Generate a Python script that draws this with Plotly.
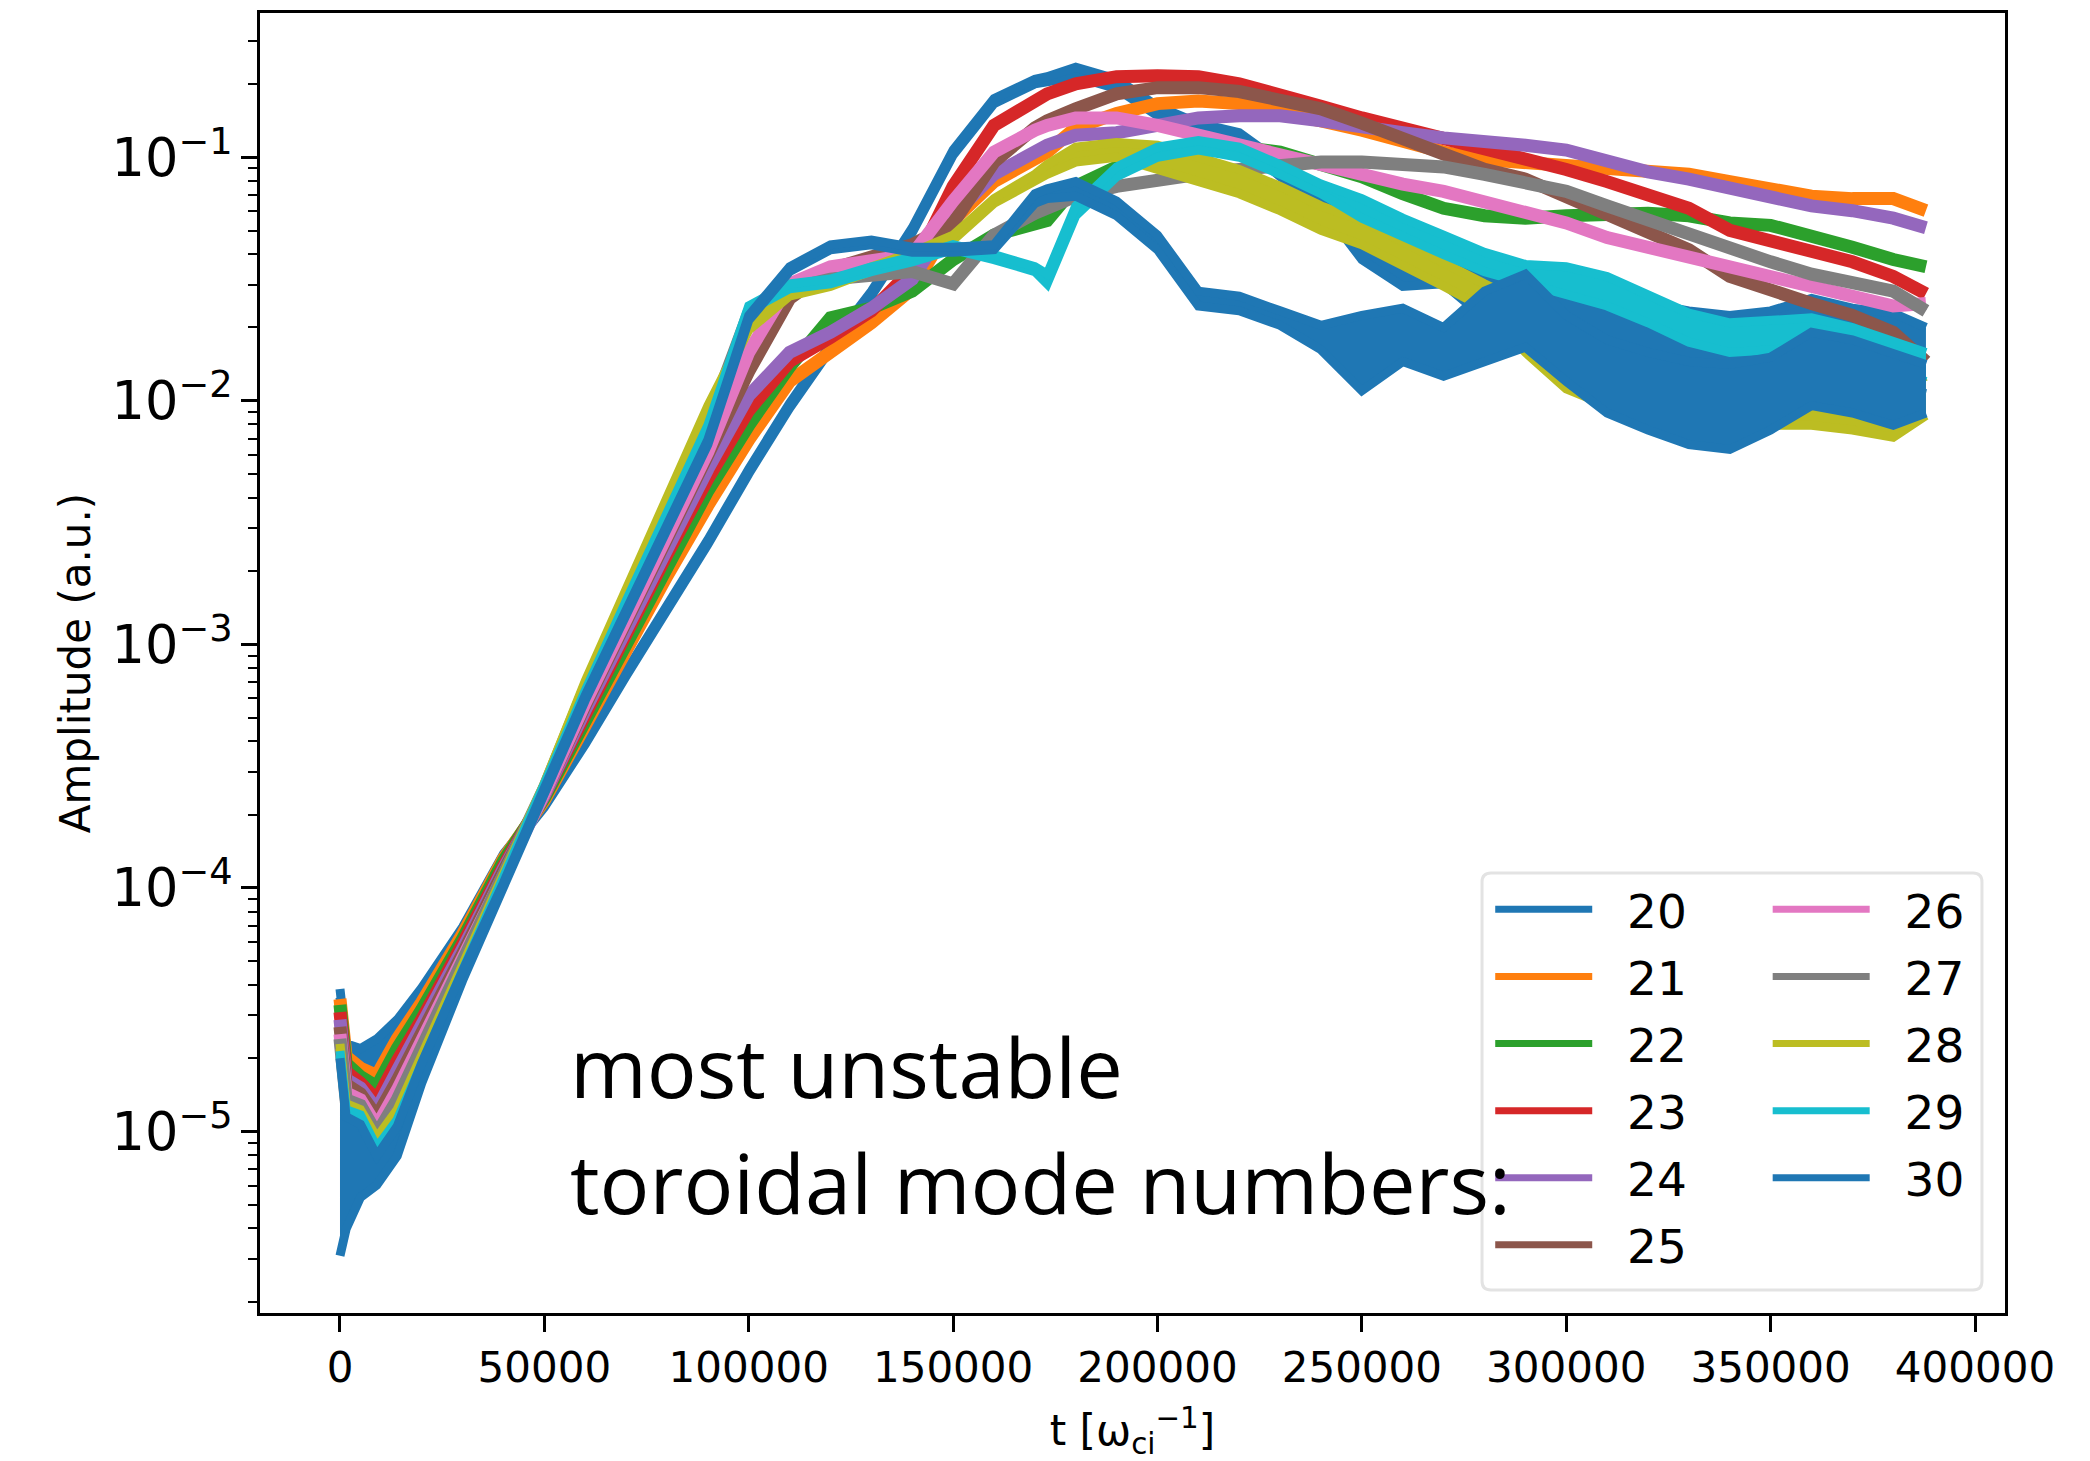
import plotly.graph_objects as go

# Simulation time grid [1/omega_ci]
T = [0, 1500, 5000, 9000, 14000, 20000, 30000, 40000, 50000, 60000, 70000, 80000,
     90000, 100000, 110000, 120000, 130000, 140000, 150000, 160000, 170000, 173000,
     180000, 190000, 200000, 210000, 220000, 230000, 240000, 250000, 260000, 270000,
     280000, 290000, 300000, 310000, 320000, 330000, 340000, 350000, 360000, 370000,
     380000, 388000]

# Mode amplitudes (a.u.).  Strongly oscillating modes are given as lower/upper envelopes.
AMP_20_LO = [3.55e-5, 2.09e-5, 1.82e-5, 1.70e-5, 2.40e-5, 3.39e-5, 6.61e-5, 1.32e-4, 2.14e-4, 3.89e-4,
             7.41e-4, 1.38e-3, 2.57e-3, 5.01e-3, 9.33e-3, 1.62e-2, 2.69e-2, 4.90e-2, 0.102, 0.166,
             0.200, 0.204, 0.214, 0.191, 0.148, 0.126, 0.115, 8.32e-2, 6.31e-2, 3.80e-2,
             2.95e-2, 3.02e-2, 2.19e-2, 2.00e-2, 1.78e-2, 1.51e-2, 1.26e-2, 1.15e-2, 1.10e-2, 1.15e-2,
             1.32e-2, 1.26e-2, 1.15e-2, 1.07e-2]
AMP_20_HI = [3.85e-5, 2.29e-5, 2.19e-5, 2.40e-5, 2.88e-5, 3.89e-5, 6.92e-5, 1.38e-4, 2.24e-4, 4.07e-4,
             7.76e-4, 1.45e-3, 2.69e-3, 5.25e-3, 9.77e-3, 1.70e-2, 2.82e-2, 5.13e-2, 0.107, 0.174,
             0.209, 0.214, 0.234, 0.209, 0.162, 0.138, 0.126, 9.55e-2, 7.59e-2, 5.89e-2,
             4.27e-2, 4.17e-2, 3.63e-2, 3.39e-2, 3.16e-2, 2.82e-2, 2.51e-2, 2.34e-2, 2.24e-2, 2.34e-2,
             2.63e-2, 2.40e-2, 2.29e-2, 2.00e-2]
AMP_21 = [3.50e-5, 2.03e-5, 1.82e-5, 1.70e-5, 2.40e-5, 3.39e-5, 6.46e-5, 1.32e-4, 2.29e-4, 4.68e-4,
          9.55e-4, 1.91e-3, 3.72e-3, 6.92e-3, 1.20e-2, 1.58e-2, 2.09e-2, 2.88e-2, 5.50e-2, 7.94e-2,
          9.77e-2, 0.105, 0.132, 0.151, 0.166, 0.170, 0.166, 0.155, 0.141, 0.129,
          0.115, 0.105, 0.0977, 0.0955, 0.0933, 0.0912, 0.0871, 0.0851, 0.0794, 0.0741,
          0.0692, 0.0676, 0.0676, 0.0603]
AMP_22 = [3.31e-5, 1.90e-5, 1.68e-5, 1.53e-5, 2.19e-5, 3.16e-5, 6.17e-5, 1.29e-4, 2.34e-4, 4.90e-4,
          1.02e-3, 2.09e-3, 4.27e-3, 7.94e-3, 1.38e-2, 2.19e-2, 2.40e-2, 2.82e-2, 3.80e-2, 4.79e-2,
          5.25e-2, 5.50e-2, 7.59e-2, 9.12e-2, 0.100, 0.107, 0.110, 0.105, 0.0933, 0.0832,
          0.0708, 0.0617, 0.0575, 0.0562, 0.0575, 0.0589, 0.0589, 0.0575, 0.0537, 0.0525,
          0.0479, 0.0427, 0.0380, 0.0355]
AMP_23 = [3.09e-5, 1.76e-5, 1.58e-5, 1.35e-5, 1.95e-5, 2.88e-5, 5.89e-5, 1.23e-4, 2.40e-4, 5.25e-4,
          1.10e-3, 2.34e-3, 4.79e-3, 9.12e-3, 1.45e-2, 1.82e-2, 2.34e-2, 3.47e-2, 7.59e-2, 0.135,
          0.174, 0.182, 0.200, 0.214, 0.216, 0.214, 0.200, 0.182, 0.162, 0.145,
          0.132, 0.120, 0.107, 0.100, 0.0891, 0.0794, 0.0708, 0.0617, 0.0501, 0.0457,
          0.0417, 0.0372, 0.0324, 0.0275]
AMP_24 = [2.88e-5, 1.64e-5, 1.51e-5, 1.23e-5, 1.78e-5, 2.69e-5, 5.62e-5, 1.20e-4, 2.40e-4, 5.37e-4,
          1.17e-3, 2.51e-3, 5.25e-3, 1.05e-2, 1.58e-2, 1.91e-2, 2.40e-2, 3.16e-2, 5.75e-2, 8.51e-2,
          0.107, 0.112, 0.123, 0.126, 0.135, 0.145, 0.148, 0.148, 0.141, 0.132,
          0.126, 0.120, 0.117, 0.112, 0.107, 0.0955, 0.0871, 0.0813, 0.0741, 0.0676,
          0.0631, 0.0603, 0.0562, 0.0513]
AMP_25 = [2.69e-5, 1.56e-5, 1.43e-5, 1.15e-5, 1.62e-5, 2.51e-5, 5.37e-5, 1.17e-4, 2.45e-4, 5.62e-4,
          1.23e-3, 2.69e-3, 5.75e-3, 1.32e-2, 2.63e-2, 3.47e-2, 3.89e-2, 4.37e-2, 5.37e-2, 9.55e-2,
          0.132, 0.141, 0.158, 0.182, 0.193, 0.193, 0.186, 0.174, 0.158, 0.138,
          0.120, 0.102, 0.0891, 0.0813, 0.0692, 0.0589, 0.0501, 0.0417, 0.0324, 0.0282,
          0.0251, 0.0224, 0.0191, 0.0145]
AMP_26 = [2.51e-5, 1.44e-5, 1.35e-5, 1.05e-5, 1.48e-5, 2.34e-5, 5.25e-5, 1.15e-4, 2.45e-4, 5.75e-4,
          1.29e-3, 2.82e-3, 6.17e-3, 1.58e-2, 3.02e-2, 3.55e-2, 3.72e-2, 3.98e-2, 6.61e-2, 0.105,
          0.129, 0.135, 0.145, 0.145, 0.135, 0.123, 0.112, 0.100, 0.0912, 0.0851,
          0.0776, 0.0724, 0.0661, 0.0603, 0.0537, 0.0468, 0.0427, 0.0389, 0.0355, 0.0316,
          0.0288, 0.0263, 0.0245, 0.0251]
AMP_27 = [2.40e-5, 1.35e-5, 1.28e-5, 9.75e-6, 1.35e-5, 2.19e-5, 5.01e-5, 1.12e-4, 2.57e-4, 6.61e-4,
          1.55e-3, 3.55e-3, 8.13e-3, 2.29e-2, 2.88e-2, 3.16e-2, 3.31e-2, 3.39e-2, 3.02e-2, 4.79e-2,
          5.89e-2, 6.17e-2, 6.92e-2, 7.59e-2, 8.13e-2, 8.51e-2, 8.91e-2, 9.33e-2, 9.55e-2, 9.55e-2,
          9.33e-2, 9.12e-2, 8.51e-2, 7.94e-2, 7.24e-2, 6.31e-2, 5.50e-2, 4.79e-2, 4.17e-2, 3.72e-2,
          3.31e-2, 3.09e-2, 2.82e-2, 2.34e-2]
AMP_28_LO = [2.19e-5, 1.26e-5, 1.19e-5, 9.02e-6, 1.17e-5, 1.95e-5, 4.68e-5, 1.07e-4, 2.57e-4, 6.76e-4,
             1.62e-3, 3.89e-3, 9.12e-3, 1.95e-2, 2.69e-2, 2.95e-2, 3.39e-2, 3.89e-2, 4.57e-2, 6.46e-2,
             8.13e-2, 8.51e-2, 9.55e-2, 0.100, 8.91e-2, 7.94e-2, 7.08e-2, 6.03e-2, 5.01e-2, 4.37e-2,
             3.55e-2, 2.95e-2, 2.40e-2, 1.58e-2, 1.12e-2, 9.55e-3, 7.76e-3, 7.94e-3, 7.59e-3, 7.94e-3,
             7.94e-3, 7.59e-3, 7.08e-3, 8.71e-3]
AMP_28_HI = [2.29e-5, 1.30e-5, 1.23e-5, 9.44e-6, 1.23e-5, 2.04e-5, 4.90e-5, 1.12e-4, 2.69e-4, 7.08e-4,
             1.70e-3, 4.07e-3, 9.55e-3, 2.04e-2, 2.82e-2, 3.09e-2, 3.55e-2, 4.07e-2, 4.79e-2, 6.76e-2,
             8.51e-2, 9.33e-2, 0.110, 0.115, 0.112, 0.100, 8.91e-2, 7.59e-2, 6.31e-2, 5.50e-2,
             4.47e-2, 3.72e-2, 3.02e-2, 2.51e-2, 2.04e-2, 1.66e-2, 1.41e-2, 1.26e-2, 1.20e-2, 1.26e-2,
             1.26e-2, 1.20e-2, 1.12e-2, 1.26e-2]
AMP_29_LO = [2.04e-5, 1.19e-5, 1.12e-5, 8.22e-6, 1.07e-5, 1.82e-5, 4.47e-5, 1.05e-4, 2.51e-4, 6.17e-4,
             1.45e-3, 3.31e-3, 7.59e-3, 2.34e-2, 2.88e-2, 3.02e-2, 3.39e-2, 3.72e-2, 4.17e-2, 3.80e-2,
             3.39e-2, 3.02e-2, 5.75e-2, 8.32e-2, 0.100, 0.107, 0.100, 8.51e-2, 7.08e-2, 5.62e-2,
             4.68e-2, 3.98e-2, 3.39e-2, 3.02e-2, 2.69e-2, 2.45e-2, 2.09e-2, 1.74e-2, 1.58e-2, 1.62e-2,
             1.66e-2, 1.51e-2, 1.32e-2, 1.20e-2]
AMP_29_HI = [2.14e-5, 1.23e-5, 1.17e-5, 8.61e-6, 1.12e-5, 1.91e-5, 4.68e-5, 1.10e-4, 2.63e-4, 6.46e-4,
             1.51e-3, 3.47e-3, 7.94e-3, 2.45e-2, 3.02e-2, 3.16e-2, 3.55e-2, 3.89e-2, 4.37e-2, 3.98e-2,
             3.55e-2, 3.31e-2, 6.31e-2, 9.12e-2, 0.110, 0.117, 0.110, 9.33e-2, 7.76e-2, 6.76e-2,
             5.62e-2, 4.79e-2, 4.07e-2, 3.63e-2, 3.55e-2, 3.24e-2, 2.75e-2, 2.29e-2, 2.09e-2, 2.14e-2,
             2.19e-2, 2.00e-2, 1.74e-2, 1.58e-2]
AMP_30_LO = [3.09e-6, 3.98e-6, 5.37e-6, 6.03e-6, 7.94e-6, 1.58e-5, 4.17e-5, 1.00e-4, 2.45e-4, 5.89e-4,
             1.32e-3, 3.02e-3, 6.61e-3, 2.14e-2, 3.39e-2, 4.17e-2, 4.37e-2, 4.07e-2, 4.07e-2, 4.17e-2,
             6.46e-2, 6.76e-2, 6.92e-2, 5.75e-2, 4.17e-2, 2.45e-2, 2.34e-2, 2.04e-2, 1.62e-2, 1.10e-2,
             1.45e-2, 1.26e-2, 1.45e-2, 1.66e-2, 1.20e-2, 8.91e-3, 7.59e-3, 6.61e-3, 6.31e-3, 7.59e-3,
             9.55e-3, 8.91e-3, 7.94e-3, 8.91e-3]
AMP_30_HI = [2.00e-5, 1.15e-5, 1.07e-5, 7.94e-6, 1.05e-5, 1.91e-5, 4.57e-5, 1.05e-4, 2.57e-4, 6.17e-4,
             1.38e-3, 3.16e-3, 6.92e-3, 2.24e-2, 3.55e-2, 4.37e-2, 4.57e-2, 4.27e-2, 4.27e-2, 4.37e-2,
             7.08e-2, 7.41e-2, 7.94e-2, 6.61e-2, 4.79e-2, 2.82e-2, 2.69e-2, 2.34e-2, 2.04e-2, 2.24e-2,
             2.40e-2, 2.00e-2, 2.82e-2, 3.31e-2, 2.24e-2, 1.78e-2, 1.58e-2, 1.45e-2, 1.41e-2, 1.51e-2,
             1.91e-2, 1.78e-2, 1.58e-2, 1.41e-2]

MODES = [20, 21, 22, 23, 24, 25, 26, 27, 28, 29, 30]
MODE_DATA = {
    20: (AMP_20_LO, AMP_20_HI), 21: (AMP_21, None), 22: (AMP_22, None), 23: (AMP_23, None),
    24: (AMP_24, None), 25: (AMP_25, None), 26: (AMP_26, None), 27: (AMP_27, None),
    28: (AMP_28_LO, AMP_28_HI), 29: (AMP_29_LO, AMP_29_HI), 30: (AMP_30_LO, AMP_30_HI),
}
COLORS = ["#1f77b4", "#ff7f0e", "#2ca02c", "#d62728", "#9467bd", "#8c564b",
          "#e377c2", "#7f7f7f", "#bcbd22", "#17becf", "#1f77b4"]

X_TICKS = [0, 50000, 100000, 150000, 200000, 250000, 300000, 350000, 400000]

NOTE_LINES = ["most unstable", "toroidal mode numbers:"]

NBSP = "\u00a0"

fig = go.Figure()
for i, n in enumerate(MODES):
    color = COLORS[i]
    legend = "legend" if n <= 25 else "legend2"
    label = NBSP * 2 + str(n)
    lo, hi = MODE_DATA[n]
    if hi is None:
        fig.add_trace(go.Scatter(x=T, y=lo, mode="lines", name=label, legend=legend,
                                 line=dict(color=color, width=13), hoverinfo="skip"))
    else:
        fig.add_trace(go.Scatter(x=T, y=lo, mode="lines", name=label, legend=legend,
                                 legendgroup=str(n), line=dict(color=color, width=9),
                                 hoverinfo="skip"))
        fig.add_trace(go.Scatter(x=T, y=hi, mode="lines", name=label, legend=legend,
                                 legendgroup=str(n), showlegend=False, fill="tonexty",
                                 fillcolor=color, line=dict(color=color, width=9),
                                 hoverinfo="skip"))

axis_common = dict(showline=True, linecolor="black", linewidth=3, mirror=True,
                   ticks="outside", ticklen=16, tickwidth=2.5, tickcolor="black",
                   showgrid=False, zeroline=False,
                   tickfont=dict(family="DejaVu Sans", size=42, color="black"))

fig.update_layout(
    width=2090, height=1461,
    margin=dict(l=260, r=85, t=13, b=148, autoexpand=False),
    paper_bgcolor="white", plot_bgcolor="white",
    font=dict(family="DejaVu Sans", color="black", size=42),
    xaxis=dict(range=[-19570, 407340], tickmode="array", tickvals=X_TICKS,
               ticktext=[str(v) for v in X_TICKS],
               title=dict(text="t [ω<sub>ci</sub><sup>−1</sup>]",
                          font=dict(family="DejaVu Sans", size=42), standoff=30),
               **axis_common),
    yaxis=dict(type="log", range=[-5.745, -0.408], dtick=1, exponentformat="power",
               showexponent="all",
               minor=dict(ticks="outside", ticklen=9, tickwidth=2, tickcolor="black",
                          dtick="D1", showgrid=False),
               title=dict(text="Amplitude (a.u.)",
                          font=dict(family="DejaVu Sans", size=42), standoff=8),
               **axis_common),
    legend=dict(x=0.705, y=0.339, xanchor="left", yanchor="top",
                bgcolor="rgba(0,0,0,0)", font=dict(family="DejaVu Sans", size=47),
                itemwidth=97, tracegroupgap=3),
    legend2=dict(x=0.864, y=0.339, xanchor="left", yanchor="top",
                 bgcolor="rgba(0,0,0,0)", font=dict(family="DejaVu Sans", size=47),
                 itemwidth=97, tracegroupgap=3),
    showlegend=True,
)

# Legend frame shared by both legend columns (rounded corners)
x0, x1, y0, y1 = 0.7003, 0.9868, 0.0177, 0.3385
rx, ry = 9 / 1745, 9 / 1300
frame = (f"M {x0 + rx},{y1} L {x1 - rx},{y1} Q {x1},{y1} {x1},{y1 - ry} "
         f"L {x1},{y0 + ry} Q {x1},{y0} {x1 - rx},{y0} L {x0 + rx},{y0} "
         f"Q {x0},{y0} {x0},{y0 + ry} L {x0},{y1 - ry} Q {x0},{y1} {x0 + rx},{y1} Z")
fig.add_shape(type="path", path=frame, xref="paper", yref="paper", layer="above",
              fillcolor="white", line=dict(color="#e3e3e3", width=3))

# Two-line note inside the axes
for line_text, y_pos in zip(NOTE_LINES, [0.1905, 0.1008]):
    fig.add_annotation(text=line_text, xref="paper", yref="paper",
                       x=0.1765, y=y_pos, xanchor="left", yanchor="middle", align="left",
                       showarrow=False, font=dict(family="Open Sans", size=83, color="black"))

# Legend handles use one uniform stroke, independent of the plotted band widths
legend_style = """
document.querySelectorAll('.legendlines path').forEach(function (p) {
    p.style.strokeWidth = '7px';
});
"""

fig.write_html("out.html", post_script=legend_style)
